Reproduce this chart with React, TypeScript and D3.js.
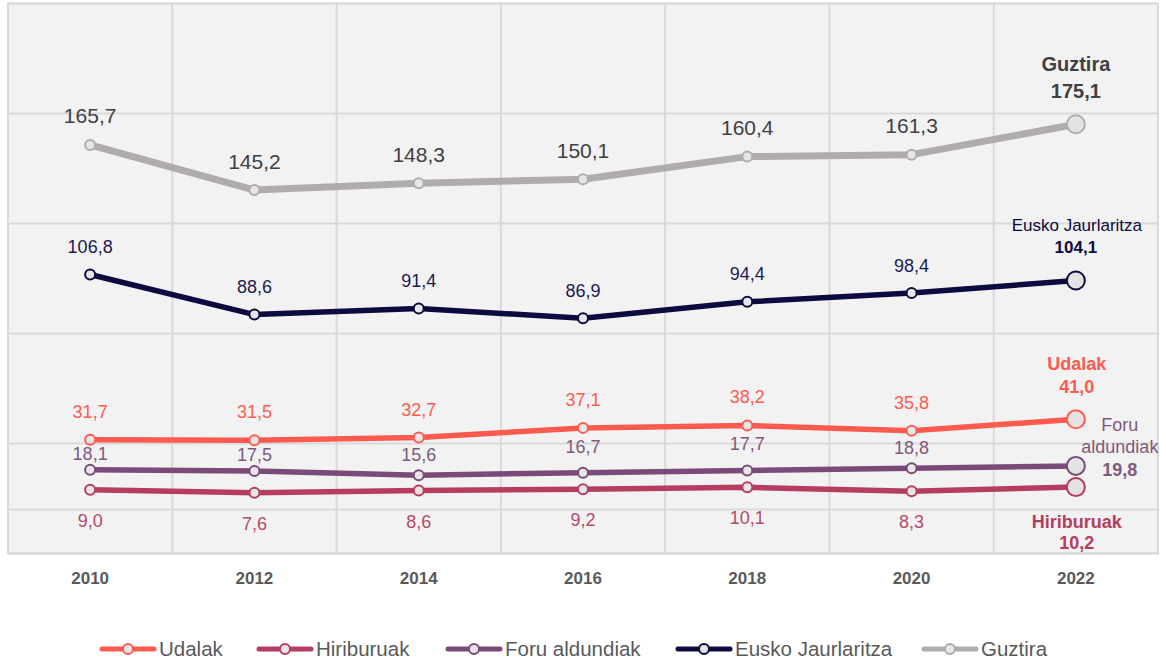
import React from 'react';
import * as d3 from 'd3';

const years = ['2010', '2012', '2014', '2016', '2018', '2020', '2022'];
const udalak = [31.7, 31.5, 32.7, 37.1, 38.2, 35.8, 41.0];
const hiriburuak = [9.0, 7.6, 8.6, 9.2, 10.1, 8.3, 10.2];
const foruAldundiak = [18.1, 17.5, 15.6, 16.7, 17.7, 18.8, 19.8];
const euskoJaurlaritza = [106.8, 88.6, 91.4, 86.9, 94.4, 98.4, 104.1];
const guztira = [165.7, 145.2, 148.3, 150.1, 160.4, 161.3, 175.1];
const yTicks = [-20, 30, 80, 130, 180, 230];

// label baseline offsets (layout only)
const foruLabelDy = [-10, -10, -14, -20, -21, -14];

const W = 1166;
const H = 663;
const plot = { left: 8, right: 1158, top: 3.5, bottom: 553.5 };
const FONT = "'Liberation Sans', Arial, sans-serif";

type EndLine = { text: string; dx: number; dy: number; size: number; bold: boolean };
type Series = {
  name: string;
  values: number[];
  color: string;
  labelColor: string;
  width: number;
  labelSize: number;
  labelDy: (i: number) => number;
  end: EndLine[];
};

const series: Series[] = [
  {
    name: 'Guztira',
    values: guztira,
    color: '#b0acab',
    labelColor: '#404040',
    width: 7,
    labelSize: 21,
    labelDy: () => -21.5,
    end: [
      { text: 'Guztira', dx: 0, dy: -53, size: 20, bold: true },
      { text: 'VAL', dx: 0, dy: -26.5, size: 20, bold: true },
    ],
  },
  {
    name: 'Eusko Jaurlaritza',
    values: euskoJaurlaritza,
    color: '#0c0a3e',
    labelColor: '#1c1a52',
    width: 5.5,
    labelSize: 18,
    labelDy: () => -21.5,
    end: [
      { text: 'Eusko Jaurlaritza', dx: 1, dy: -49.5, size: 17, bold: false },
      { text: 'VAL', dx: 0, dy: -27, size: 17, bold: true },
    ],
  },
  {
    name: 'Udalak',
    values: udalak,
    color: '#ff5a50',
    labelColor: '#ff5a50',
    width: 5.5,
    labelSize: 18,
    labelDy: () => -22,
    end: [
      { text: 'Udalak', dx: 1, dy: -49, size: 18, bold: true },
      { text: 'VAL', dx: 1, dy: -26, size: 18, bold: true },
    ],
  },
  {
    name: 'Foru aldundiak',
    values: foruAldundiak,
    color: '#7a4b78',
    labelColor: '#7d5a7d',
    width: 5.5,
    labelSize: 18,
    labelDy: (i) => foruLabelDy[i],
    end: [
      { text: 'Foru', dx: 44, dy: -35, size: 18, bold: false },
      { text: 'aldundiak', dx: 44, dy: -13, size: 18, bold: false },
      { text: 'VAL', dx: 44, dy: 10, size: 18, bold: true },
    ],
  },
  {
    name: 'Hiriburuak',
    values: hiriburuak,
    color: '#b43d60',
    labelColor: '#b44a6a',
    width: 5.5,
    labelSize: 18,
    labelDy: () => 37,
    end: [
      { text: 'Hiriburuak', dx: 1, dy: 40.5, size: 18, bold: true },
      { text: 'VAL', dx: 1, dy: 62, size: 18, bold: true },
    ],
  },
];

const legendOrder = ['Udalak', 'Hiriburuak', 'Foru aldundiak', 'Eusko Jaurlaritza', 'Guztira'];
// legend item start positions (layout only)
const legendStarts = [100, 257, 446, 676, 922];

const fmt = (v: number) => d3.format('.1f')(v).replace('.', ',');

export default function App() {
  const x = d3.scaleBand<string>().domain(years).range([plot.left, plot.right]).padding(0);
  const y = d3.scaleLinear().domain([-20, 230]).range([plot.bottom, plot.top]);
  const cx = (yr: string) => (x(yr) as number) + x.bandwidth() / 2;
  const line = d3
    .line<number>()
    .x((_, i) => cx(years[i]))
    .y((d) => y(d));

  const last = years.length - 1;

  const legendY = 649;
  const lineLen = 56;
  const legendItems = legendOrder.map((name, i) => {
    const s = series.find((d) => d.name === name)!;
    return { s, x: legendStarts[i] };
  });

  return (
    <svg
      width={W}
      height={H}
      style={{ position: 'absolute', left: 0, top: 0, fontFamily: FONT }}
    >
      <rect x={0} y={0} width={W} height={H} fill="#ffffff" />
      <rect
        x={plot.left}
        y={plot.top}
        width={plot.right - plot.left}
        height={plot.bottom - plot.top}
        fill="#f2f2f2"
      />
      {years.map((yr) => (
        <line
          key={'v' + yr}
          x1={x(yr)}
          x2={x(yr)}
          y1={plot.top}
          y2={plot.bottom}
          stroke="#d9d9d9"
          strokeWidth={2}
        />
      ))}
      {[...yTicks, 0].map((t) => (
        <line
          key={'h' + t}
          x1={plot.left}
          x2={plot.right}
          y1={y(t)}
          y2={y(t)}
          stroke="#d9d9d9"
          strokeWidth={2}
        />
      ))}
      <rect
        x={plot.left}
        y={plot.top}
        width={plot.right - plot.left}
        height={plot.bottom - plot.top}
        fill="none"
        stroke="#d9d9d9"
        strokeWidth={2}
      />
      {years.map((yr) => (
        <text
          key={'xl' + yr}
          x={cx(yr)}
          y={584}
          textAnchor="middle"
          fontSize={17}
          fontWeight="bold"
          fill="#595959"
        >
          {yr}
        </text>
      ))}
      {series.map((s) => (
        <g key={s.name}>
          <path
            d={line(s.values) || ''}
            fill="none"
            stroke={s.color}
            strokeWidth={s.width}
            strokeLinejoin="round"
            strokeLinecap="round"
          />
          {s.values.map((v, i) => (
            <circle
              key={i}
              cx={cx(years[i])}
              cy={y(v)}
              r={i === last ? 9 : 5}
              fill={i === last ? '#e3e3e3' : '#e6e6e6'}
              stroke={s.color}
              strokeWidth={2}
            />
          ))}
          {s.values.map((v, i) =>
            i === last ? null : (
              <text
                key={'l' + i}
                x={cx(years[i])}
                y={y(v) + s.labelDy(i)}
                textAnchor="middle"
                fontSize={s.labelSize}
                fill={s.labelColor}
              >
                {fmt(v)}
              </text>
            )
          )}
          {s.end.map((e, k) => (
            <text
              key={'e' + k}
              x={cx(years[last]) + e.dx}
              y={y(s.values[last]) + e.dy}
              textAnchor="middle"
              fontSize={e.size}
              fontWeight={e.bold ? 'bold' : 'normal'}
              fill={s.name === 'Foru aldundiak' ? s.labelColor : s.name === 'Guztira' ? '#404040' : s.color}
            >
              {e.text === 'VAL' ? fmt(s.values[last]) : e.text}
            </text>
          ))}
        </g>
      ))}
      {legendItems.map(({ s, x: px }) => (
        <g key={'lg' + s.name}>
          <line
            x1={px + 2}
            x2={px + lineLen - 2}
            y1={legendY}
            y2={legendY}
            stroke={s.color}
            strokeWidth={5}
            strokeLinecap="round"
          />
          <circle
            cx={px + lineLen / 2}
            cy={legendY}
            r={5}
            fill="#e6e6e6"
            stroke={s.color}
            strokeWidth={2}
          />
          <text x={px + lineLen + 3} y={legendY + 7} fontSize={20.5} fill="#595959">
            {s.name}
          </text>
        </g>
      ))}
    </svg>
  );
}
